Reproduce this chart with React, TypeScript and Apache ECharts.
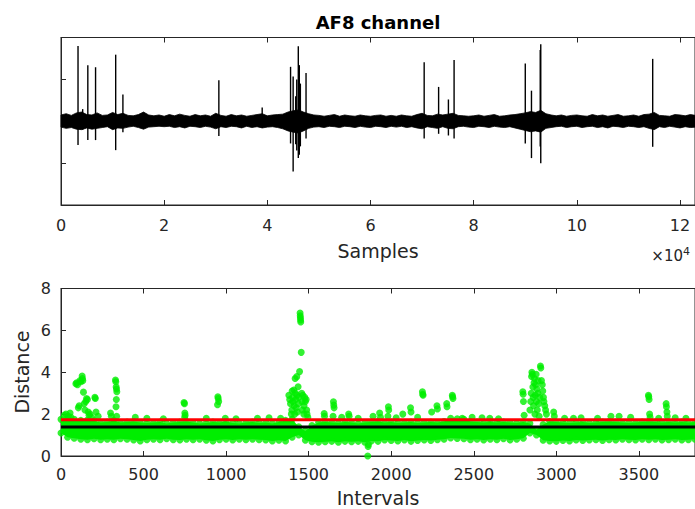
import React, { useEffect, useRef } from "react";
import * as echarts from "echarts";

const TITLE = "AF8 channel";
const TOP_X_NAME = "Samples";
const BOTTOM_X_NAME = "Intervals";
const BOTTOM_Y_NAME = "Distance";

const SAMPLE_MAX = 122900;
const SAMPLE_TICK = 20000;
const INTERVAL_MAX = 3840;
const INTERVAL_TICK = 500;
const DIST_MAX = 8;
const DIST_TICK = 2;

// EEG noise band envelope, one reading every NOISE_STEP samples
const NOISE_STEP = 1000;
const noiseUpper = [
  0.15, 0.18, 0.14, 0.2, 0.22, 0.16, 0.15, 0.2, 0.14, 0.15,
  0.21, 0.16, 0.19, 0.14, 0.13, 0.16, 0.22, 0.15, 0.13, 0.15,
  0.12, 0.16, 0.13, 0.17, 0.14, 0.12, 0.16, 0.13, 0.15, 0.12,
  0.19, 0.14, 0.12, 0.16, 0.13, 0.15, 0.12, 0.14, 0.16, 0.18,
  0.13, 0.15, 0.16, 0.17, 0.22, 0.25, 0.27, 0.22, 0.18, 0.15,
  0.14, 0.12, 0.14, 0.16, 0.12, 0.15, 0.13, 0.12, 0.15, 0.13,
  0.12, 0.14, 0.15, 0.12, 0.14, 0.12, 0.15, 0.13, 0.12, 0.16,
  0.19, 0.14, 0.13, 0.17, 0.15, 0.17, 0.19, 0.14, 0.13, 0.12,
  0.13, 0.15, 0.12, 0.14, 0.16, 0.12, 0.13, 0.15, 0.16, 0.18,
  0.2, 0.23, 0.21, 0.26, 0.18, 0.15, 0.13, 0.15, 0.12, 0.14,
  0.15, 0.13, 0.12, 0.16, 0.13, 0.15, 0.12, 0.14, 0.16, 0.12,
  0.13, 0.15, 0.12, 0.16, 0.17, 0.21, 0.14, 0.13, 0.12, 0.16,
  0.15, 0.13, 0.16, 0.14,
];
const noiseLower = [
  -0.14, -0.17, -0.15, -0.19, -0.2, -0.16, -0.19, -0.17, -0.15, -0.13,
  -0.2, -0.16, -0.17, -0.14, -0.12, -0.15, -0.19, -0.14, -0.13, -0.12,
  -0.13, -0.12, -0.15, -0.13, -0.16, -0.12, -0.13, -0.15, -0.12, -0.14,
  -0.18, -0.13, -0.15, -0.12, -0.13, -0.16, -0.12, -0.15, -0.13, -0.16,
  -0.14, -0.13, -0.15, -0.18, -0.23, -0.26, -0.28, -0.23, -0.17, -0.14,
  -0.13, -0.15, -0.12, -0.13, -0.15, -0.12, -0.13, -0.15, -0.12, -0.14,
  -0.15, -0.12, -0.13, -0.15, -0.12, -0.14, -0.12, -0.15, -0.13, -0.16,
  -0.18, -0.13, -0.15, -0.17, -0.13, -0.17, -0.18, -0.13, -0.12, -0.14,
  -0.15, -0.12, -0.13, -0.15, -0.12, -0.14, -0.15, -0.13, -0.16, -0.19,
  -0.22, -0.25, -0.23, -0.26, -0.17, -0.15, -0.13, -0.12, -0.15, -0.13,
  -0.12, -0.15, -0.13, -0.12, -0.15, -0.13, -0.16, -0.12, -0.13, -0.15,
  -0.12, -0.13, -0.15, -0.13, -0.17, -0.2, -0.13, -0.15, -0.12, -0.14,
  -0.16, -0.13, -0.15, -0.14,
];

// artefact spikes: [sample, peak, trough]
const spikes: [number, number, number][] = [
  [3300, 1.8, -0.57],
  [4200, 0.29, -0.2],
  [5200, 1.34, -0.45],
  [6700, 1.29, -0.45],
  [10600, 1.59, -0.69],
  [12000, 0.64, -0.26],
  [30600, 0.98, -0.35],
  [39000, 0.33, -0.15],
  [44500, 1.3, -0.53],
  [45000, 1.07, -1.2],
  [45500, 0.6, -0.55],
  [45700, 1.0, -0.7],
  [46000, 1.79, -0.88],
  [46200, 1.34, -0.8],
  [46400, 0.9, -0.6],
  [47500, 1.15, -0.41],
  [70400, 1.41, -0.41],
  [73200, 0.82, -0.3],
  [75100, 0.52, -0.34],
  [76200, 1.46, -0.41],
  [90000, 1.38, -0.53],
  [91200, 0.73, -0.88],
  [92900, 1.7, -0.6],
  [93000, 1.84, -1.0],
  [114700, 1.49, -0.61],
];

// dense distance band envelope, one reading every BAND_STEP intervals
const BAND_STEP = 40;
const bandUpper = [
  1.75, 1.8, 1.75, 1.7, 1.72, 1.68, 1.6, 1.62, 1.7, 1.6,
  1.62, 1.65, 1.6, 1.58, 1.6, 1.62, 1.55, 1.6, 1.62, 1.65,
  1.6, 1.55, 1.58, 1.62, 1.6, 1.65, 1.58, 1.55, 1.6, 1.62,
  1.58, 1.6, 1.55, 1.62, 1.7, 1.75, 1.4, 1.2, 1.45, 1.6,
  1.62, 1.6, 1.58, 1.62, 1.6, 1.55, 1.6, 1.62, 1.65, 1.6,
  1.62, 1.58, 1.6, 1.62, 1.58, 1.6, 1.62, 1.6, 1.65, 1.8,
  1.78, 1.75, 1.65, 1.62, 1.6, 1.62, 1.6, 1.62, 1.6, 1.58,
  1.62, 1.55, 1.25, 1.5, 1.65, 1.62, 1.6, 1.58, 1.6, 1.62,
  1.58, 1.6, 1.62, 1.65, 1.62, 1.6, 1.58, 1.6, 1.62, 1.65,
  1.62, 1.6, 1.62, 1.6, 1.62, 1.6, 1.62,
];
const bandLower = [
  1.1, 0.9, 0.85, 0.8, 0.78, 0.82, 0.78, 0.8, 0.78, 0.82,
  0.8, 0.76, 0.72, 0.78, 0.8, 0.78, 0.82, 0.78, 0.76, 0.8,
  0.78, 0.8, 0.75, 0.72, 0.78, 0.8, 0.76, 0.8, 0.78, 0.8,
  0.78, 0.76, 0.72, 0.75, 0.72, 0.9, 1.0, 0.75, 0.68, 0.66,
  0.68, 0.7, 0.66, 0.7, 0.68, 0.7, 0.66, 0.72, 0.7, 0.76,
  0.74, 0.72, 0.76, 0.7, 0.74, 0.76, 0.74, 0.78, 0.8, 0.86,
  0.84, 0.82, 0.78, 0.8, 0.76, 0.8, 0.78, 0.82, 0.76, 0.8,
  0.85, 1.1, 1.0, 0.75, 0.72, 0.7, 0.74, 0.72, 0.76, 0.74,
  0.76, 0.78, 0.74, 0.78, 0.76, 0.8, 0.78, 0.76, 0.8, 0.78,
  0.8, 0.76, 0.78, 0.8, 0.76, 0.78, 0.8,
];

// points outside the dense band: [interval, distance]
const outliers: [number, number][] = [
  [20, 1.95], [30, 2.0], [45, 1.9], [55, 2.05], [60, 1.85],
  [90, 3.45], [95, 3.5], [100, 3.4], [105, 2.3], [110, 2.4], [115, 3.6], [120, 3.55],
  [128, 3.82], [130, 3.7], [132, 3.6], [136, 3.05], [140, 2.5], [145, 2.2], [150, 2.6],
  [155, 2.75], [160, 2.7], [165, 2.1], [170, 1.95], [175, 2.0], [185, 1.85],
  [205, 2.8], [208, 2.75], [212, 2.1], [225, 1.9], [300, 2.05], [305, 1.9],
  [330, 3.63], [332, 3.55], [334, 3.3], [336, 3.2], [338, 3.07], [335, 2.7], [333, 2.35], [337, 1.9],
  [450, 1.85], [520, 1.8], [620, 1.78],
  [745, 2.55], [748, 2.5], [750, 2.05], [752, 1.95], [749, 1.85], [880, 1.8],
  [950, 2.83], [952, 2.75], [955, 2.6], [948, 2.45], [995, 1.8], [1060, 1.78],
  [1190, 1.8], [1260, 1.82], [1330, 1.8],
  [1380, 2.9], [1385, 2.7], [1390, 2.5], [1395, 2.0], [1398, 2.2], [1400, 3.1], [1403, 2.8],
  [1405, 2.6], [1410, 3.15], [1412, 2.4], [1415, 2.0], [1418, 3.7], [1420, 3.0], [1422, 2.7],
  [1425, 2.3], [1428, 3.79], [1430, 2.9], [1432, 2.1], [1436, 3.31], [1438, 2.5], [1440, 2.8],
  [1445, 4.03], [1448, 6.83], [1449, 6.7], [1450, 6.6], [1451, 6.5], [1452, 6.4], [1455, 4.95],
  [1458, 3.0], [1460, 2.6], [1462, 2.2], [1465, 2.9], [1470, 2.0], [1472, 2.4], [1476, 2.8],
  [1480, 2.6], [1485, 2.7], [1488, 2.2], [1490, 2.0], [1495, 1.85],
  [1594, 2.03], [1596, 1.9], [1650, 2.59], [1652, 2.43], [1654, 2.3], [1648, 1.9],
  [1700, 1.85], [1742, 2.0], [1745, 1.9], [1800, 1.8],
  [1858, 0.0], [1860, 0.45], [1862, 0.55],
  [1890, 1.9], [1930, 2.05], [1935, 1.85], [1983, 2.35], [1985, 2.2], [1980, 1.9], [2030, 1.82],
  [2070, 2.0], [2117, 2.3], [2120, 2.1], [2160, 1.85], [2189, 3.07], [2191, 2.95], [2193, 2.9],
  [2245, 2.1], [2277, 2.4], [2280, 2.25], [2336, 2.5], [2338, 2.35],
  [2370, 2.9], [2372, 2.83], [2374, 2.75], [2430, 1.8],
  [2490, 1.85], [2550, 1.82], [2597, 1.8], [2650, 1.78],
  [2797, 3.07], [2799, 2.95], [2801, 2.6], [2805, 1.95],
  [2840, 2.2], [2845, 2.6], [2848, 3.0], [2850, 3.8], [2852, 4.0], [2855, 3.9], [2858, 3.3],
  [2860, 2.8], [2862, 2.4], [2865, 3.5], [2868, 3.7], [2870, 2.0], [2872, 2.9], [2875, 3.4],
  [2878, 3.9], [2880, 2.6], [2882, 3.2], [2885, 2.2], [2888, 3.0], [2890, 3.6], [2893, 2.5],
  [2896, 1.9], [2900, 2.8], [2904, 4.3], [2906, 4.2], [2910, 3.6], [2915, 3.4], [2918, 3.1],
  [2922, 2.8], [2925, 2.6], [2930, 2.4], [2935, 2.2], [2940, 2.0], [2984, 2.1], [2988, 1.9],
  [3050, 1.8], [3104, 1.8], [3150, 1.82], [3250, 1.8], [3331, 1.9], [3380, 1.9], [3450, 1.85],
  [3558, 2.9], [3560, 2.83], [3562, 2.7], [3565, 2.0], [3568, 1.85], [3620, 1.8],
  [3665, 2.5], [3667, 2.35], [3670, 2.1], [3672, 1.9], [3720, 1.82], [3785, 1.8],
];

const RED_THRESHOLD = 1.73;
const BLACK_LEVEL = 1.39;

const FONT = "DejaVu Sans";
const AX = "#262626";
const GREEN = "#00EE00";

function axisCommon() {
  return {
    type: "value" as const,
    axisLine: { show: true, onZero: false, lineStyle: { color: AX, width: 1 } },
    axisTick: { show: true, inside: true, length: 5, lineStyle: { color: AX, width: 1 } },
    splitLine: { show: false },
  };
}

export default function App() {
  const ref = useRef<HTMLDivElement>(null);
  useEffect(() => {
    document.body.style.margin = "0";
    if (!ref.current) return;
    const chart = echarts.init(ref.current, undefined, { renderer: "svg" });

    const bandDots: [number, number][] = [];
    bandUpper.forEach((v, i) => bandDots.push([i * BAND_STEP, v]));
    bandLower.forEach((v, i) => bandDots.push([i * BAND_STEP, v]));

    const option: any = {
      animation: false,
      textStyle: { fontFamily: FONT },
      grid: [
        { left: 61, top: 37.5, width: 636, height: 167.5, show: true, borderColor: AX, borderWidth: 1, backgroundColor: "#fff" },
        { left: 61, top: 288.5, width: 636, height: 167.5, show: true, borderColor: AX, borderWidth: 1, backgroundColor: "#fff" },
      ],
      xAxis: [
        {
          ...axisCommon(), gridIndex: 0, position: "bottom", min: 0, max: SAMPLE_MAX, interval: SAMPLE_TICK,
          axisLabel: { color: AX, fontSize: 16, fontFamily: FONT, margin: 12, showMaxLabel: false, formatter: (v: number) => String(v / 10000) },
        },
        {
          ...axisCommon(), gridIndex: 0, position: "top", min: 0, max: SAMPLE_MAX, interval: SAMPLE_TICK,
          axisLabel: { show: false },
        },
        {
          ...axisCommon(), gridIndex: 1, position: "bottom", min: 0, max: INTERVAL_MAX, interval: INTERVAL_TICK,
          axisLabel: { color: AX, fontSize: 16, fontFamily: FONT, margin: 10, showMaxLabel: false, formatter: (v: number) => String(v) },
        },
        {
          ...axisCommon(), gridIndex: 1, position: "top", min: 0, max: INTERVAL_MAX, interval: INTERVAL_TICK,
          axisLabel: { show: false },
        },
      ],
      yAxis: [
        { ...axisCommon(), gridIndex: 0, min: -2, max: 2, interval: 1, axisLabel: { show: false } },
        {
          ...axisCommon(), gridIndex: 1, min: 0, max: DIST_MAX, interval: DIST_TICK,
          axisLabel: { color: AX, fontSize: 16, fontFamily: FONT, margin: 10 },
        },
      ],
      series: [
        {
          type: "custom",
          xAxisIndex: 0,
          yAxisIndex: 0,
          data: [[0, 0]],
          renderItem: (_p: any, api: any) => {
            const pts: number[][] = [];
            noiseUpper.forEach((v, i) => pts.push(api.coord([i * NOISE_STEP, v])));
            for (let i = noiseLower.length - 1; i >= 0; i--) pts.push(api.coord([i * NOISE_STEP, noiseLower[i]]));
            return { type: "polygon", shape: { points: pts }, style: { fill: "#000", stroke: "#000", lineWidth: 0.8 } };
          },
          silent: true,
        },
        {
          type: "custom",
          xAxisIndex: 0,
          yAxisIndex: 0,
          data: spikes,
          encode: { x: 0, y: [1, 2] },
          renderItem: (_p: any, api: any) => {
            const a = api.coord([api.value(0), api.value(1)]);
            const b = api.coord([api.value(0), api.value(2)]);
            return { type: "line", shape: { x1: a[0], y1: a[1], x2: b[0], y2: b[1] }, style: { stroke: "#000", lineWidth: 1.4 } };
          },
          silent: true,
        },
        {
          type: "custom",
          xAxisIndex: 2,
          yAxisIndex: 1,
          data: [[0, 1]],
          renderItem: (_p: any, api: any) => {
            const pts: number[][] = [];
            bandUpper.forEach((v, i) => pts.push(api.coord([i * BAND_STEP, v])));
            for (let i = bandLower.length - 1; i >= 0; i--) pts.push(api.coord([i * BAND_STEP, bandLower[i]]));
            return { type: "polygon", shape: { points: pts }, style: { fill: GREEN } };
          },
          silent: true,
        },
        {
          type: "scatter",
          xAxisIndex: 2,
          yAxisIndex: 1,
          data: bandDots,
          symbolSize: 7,
          itemStyle: { color: GREEN },
          silent: true,
        },
        {
          type: "scatter",
          xAxisIndex: 2,
          yAxisIndex: 1,
          data: outliers,
          symbolSize: 7,
          itemStyle: { color: GREEN },
          silent: true,
        },
        {
          type: "line",
          xAxisIndex: 2,
          yAxisIndex: 1,
          data: [[0, RED_THRESHOLD], [INTERVAL_MAX, RED_THRESHOLD]],
          symbol: "none",
          lineStyle: { color: "#FF0000", width: 3 },
          z: 5,
          silent: true,
        },
        {
          type: "line",
          xAxisIndex: 2,
          yAxisIndex: 1,
          data: [[0, BLACK_LEVEL], [INTERVAL_MAX, BLACK_LEVEL]],
          symbol: "none",
          lineStyle: { color: "#000", width: 3 },
          z: 5,
          silent: true,
        },
      ],
      graphic: [
        { type: "text", x: 378, y: 22, style: { text: TITLE, fontFamily: FONT, fontSize: 18, fontWeight: "bold", fill: "#000", textAlign: "center", textVerticalAlign: "middle" } },
        { type: "text", x: 378, y: 251, style: { text: TOP_X_NAME, fontFamily: FONT, fontSize: 19, fill: AX, textAlign: "center", textVerticalAlign: "middle" } },
        {
          type: "text", x: 690, y: 256,
          style: {
            text: "{a|×10}{b|4}", textAlign: "right", textVerticalAlign: "middle", fill: AX,
            rich: {
              a: { fontFamily: FONT, fontSize: 15, fill: AX, color: AX },
              b: { fontFamily: FONT, fontSize: 11, fill: AX, color: AX, verticalAlign: "top", padding: [0, 0, 10, 0] },
            },
          },
        },
        { type: "text", x: 378, y: 498, style: { text: BOTTOM_X_NAME, fontFamily: FONT, fontSize: 19, fill: AX, textAlign: "center", textVerticalAlign: "middle" } },
        { type: "text", x: 22, y: 372, rotation: Math.PI / 2, style: { text: BOTTOM_Y_NAME, fontFamily: FONT, fontSize: 19, fill: AX, textAlign: "center", textVerticalAlign: "middle" } },
      ],
    };
    chart.setOption(option);
    return () => chart.dispose();
  }, []);
  return <div ref={ref} style={{ width: 695, height: 509, background: "#fff" }} />;
}
